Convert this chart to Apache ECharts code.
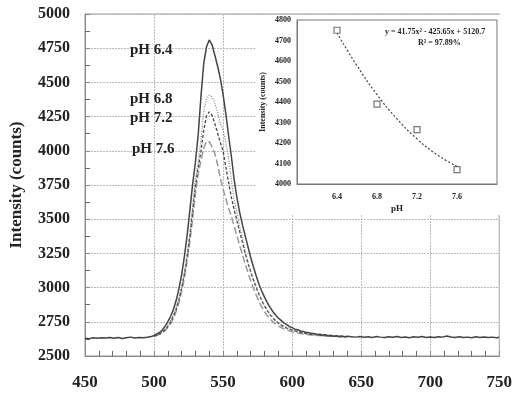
<!DOCTYPE html>
<html>
<head>
<meta charset="utf-8">
<script src="https://cdn.jsdelivr.net/npm/echarts@6/dist/echarts.min.js"></script>
<style>
  html, body { margin: 0; padding: 0; background: #fff; }
  #chart { width: 515px; height: 394px; }
</style>
</head>
<body>
<div id="chart"></div>
<script>
// wavelengths (nm)
const wlLeft = [450, 453, 456, 459, 462, 465, 468, 471, 474, 477, 480, 483, 486, 489, 492, 495, 498]
const wlPeak = [
  500, 502, 504, 506, 508, 510, 512, 514, 516, 518,
  520, 522, 524, 526, 528, 530, 532, 534, 536, 538,
  540, 542, 544, 546, 548, 550, 552, 554, 556, 558,
  560, 562, 564, 566, 568, 570, 572, 574, 576, 578,
  580, 582, 584, 586, 588, 590, 592, 594, 596, 598,
  600, 602, 604, 606, 608, 610, 612, 614, 616, 618,
  620, 622, 624, 626, 628, 630, 632, 634, 636, 638,
  640
]
const wlRight = [
  643, 646, 649, 652, 655, 658, 661, 664, 667, 670,
  673, 676, 679, 682, 685, 688, 691, 694, 697, 700,
  703, 706, 709, 712, 715, 718, 721, 724, 727, 730,
  733, 736, 739, 742, 745, 748, 750
]

// intensity (counts)
const ph64Left = [2630, 2627, 2633, 2629, 2634, 2631, 2636, 2630, 2635, 2628, 2634, 2638, 2632, 2636, 2633, 2637, 2642]
const ph64Peak = [
  2650, 2661, 2672, 2690, 2718, 2752, 2790, 2840, 2905, 2990,
  3095, 3230, 3385, 3570, 3760, 3920, 4120, 4400, 4640, 4760,
  4810, 4775, 4700, 4620, 4530, 4410, 4270, 4110, 3960, 3790,
  3660, 3550, 3460, 3380, 3300, 3220, 3150, 3085, 3025, 2975,
  2930, 2890, 2855, 2825, 2800, 2778, 2760, 2742, 2730, 2716,
  2707, 2696, 2692, 2683, 2680, 2672, 2671, 2664, 2665, 2658,
  2659, 2653, 2655, 2648, 2651, 2645, 2648, 2643, 2646, 2641,
  2644
]
const ph64Right = [
  2641, 2638, 2643, 2637, 2640, 2636, 2642, 2638, 2635, 2641,
  2637, 2643, 2636, 2639, 2634, 2640, 2637, 2642, 2636, 2639,
  2635, 2641, 2638, 2646, 2639, 2636, 2641, 2635, 2638, 2634,
  2640, 2636, 2639, 2635, 2638, 2634, 2637
]
const ph68Peak = [
  2648, 2655, 2664, 2678, 2700, 2725, 2760, 2800, 2855, 2925,
  3010, 3110, 3250, 3400, 3600, 3800, 3920, 4080, 4290, 4380,
  4405, 4395, 4350, 4280, 4200, 4150, 4060, 3950, 3780, 3640,
  3550, 3450, 3360, 3270, 3190, 3120, 3060, 3005, 2955, 2910,
  2870, 2836, 2806, 2782, 2762, 2746, 2732, 2720, 2710, 2701,
  2694, 2686, 2681, 2675, 2671, 2666, 2664, 2660, 2658, 2655,
  2654, 2651, 2650, 2647, 2647, 2644, 2645, 2642, 2643, 2640,
  2641
]
const ph72Peak = [
  2646, 2652, 2661, 2674, 2692, 2716, 2748, 2790, 2842, 2910,
  2995, 3100, 3230, 3380, 3560, 3750, 3880, 4000, 4150, 4255,
  4285, 4260, 4200, 4130, 4060, 4000, 3880, 3770, 3660, 3570,
  3490, 3410, 3330, 3250, 3180, 3115, 3055, 3000, 2950, 2905,
  2866, 2832, 2802, 2778, 2757, 2740, 2726, 2714, 2704, 2696,
  2689, 2683, 2677, 2672, 2668, 2664, 2661, 2658, 2656, 2654,
  2652, 2650, 2648, 2647, 2645, 2644, 2643, 2642, 2641, 2641,
  2640
]
const ph76Peak = [
  2645, 2650, 2658, 2670, 2686, 2708, 2737, 2776, 2825, 2890,
  2970, 3070, 3195, 3340, 3510, 3690, 3830, 3930, 4020, 4070,
  4065, 4030, 3980, 3900, 3800, 3720, 3650, 3580, 3520, 3450,
  3380, 3310, 3240, 3175, 3110, 3050, 2995, 2945, 2900, 2860,
  2825, 2795, 2770, 2750, 2734, 2720, 2708, 2699, 2691, 2684,
  2678, 2673, 2668, 2664, 2661, 2658, 2656, 2654, 2652, 2650,
  2649, 2648, 2646, 2645, 2644, 2643, 2642, 2642, 2641, 2640,
  2640
]

// inset: peak intensity vs pH
const phValues = [6.4, 6.8, 7.2, 7.6]
const peakIntensity = [4750, 4390, 4265, 4070]
const trendPh = [6.4, 6.6, 6.8, 7.0, 7.2, 7.4, 7.6]
const trendIntensity = [4737, 4577, 4436, 4318, 4220, 4143, 4086]

const curveLabels = ["pH 6.4", "pH 6.8", "pH 7.2", "pH 7.6"]

const zip = (xs, ys) => xs.map((x, i) => [x, ys[i]])
const plain = (v) => String(v)

const serif = "Liberation Serif"
const chart = echarts.init(document.getElementById("chart"))

const labelText = (text, x, y, size) => ({
  type: "text",
  left: x,
  top: y,
  z: 30,
  style: { text: text, font: `bold ${size}px "${serif}"`, fill: "#222" },
})

chart.setOption({
  animation: false,
  backgroundColor: "#fff",
  grid: [
    { left: 85, right: 12, top: 14, bottom: 38, show: true, borderColor: "#999", borderWidth: 1 },
    { left: 297, top: 20, width: 200, height: 164, show: true, borderColor: "#777", borderWidth: 1, z: 10 },
  ],
  xAxis: [
    {
      gridIndex: 0,
      type: "value",
      min: 450,
      max: 750,
      interval: 50,
      axisLine: { lineStyle: { color: "#888" } },
      axisTick: { show: true, inside: true, length: 5, lineStyle: { color: "#888" } },
      minorTick: { show: true, splitNumber: 5, length: 5, lineStyle: { color: "#666" } },
      axisLabel: { color: "#222", fontFamily: serif, fontWeight: "bold", fontSize: 17, margin: 18, formatter: plain },
      splitLine: { lineStyle: { color: "#bbb", type: [2, 1] } },
    },
    {
      gridIndex: 1,
      type: "value",
      min: 6.0,
      max: 8.0,
      interval: 0.4,
      z: 10,
      name: "pH",
      nameLocation: "middle",
      nameGap: 20,
      nameTextStyle: { color: "#222", fontFamily: serif, fontWeight: "bold", fontSize: 9 },
      axisLine: { lineStyle: { color: "#777" } },
      axisTick: { show: false },
      axisLabel: {
        color: "#222", fontFamily: serif, fontWeight: "bold", fontSize: 8, margin: 9,
        formatter: (v) => (v < 6.2 || v > 7.8 ? "" : v.toFixed(1)),
      },
      splitLine: { show: false },
    },
  ],
  yAxis: [
    {
      gridIndex: 0,
      type: "value",
      min: 2500,
      max: 5000,
      interval: 250,
      name: "Intensity (counts)",
      nameLocation: "middle",
      nameGap: 60,
      nameTextStyle: { color: "#222", fontFamily: serif, fontWeight: "bold", fontSize: 17 },
      axisLine: { show: true, lineStyle: { color: "#888" } },
      axisTick: { show: true, inside: true, length: 5, lineStyle: { color: "#888" } },
      minorTick: { show: true, splitNumber: 2, length: 5, lineStyle: { color: "#666" } },
      axisLabel: { color: "#222", fontFamily: serif, fontWeight: "bold", fontSize: 16, margin: 15, formatter: plain },
      splitLine: { lineStyle: { color: "#bbb", type: [2, 1] } },
    },
    {
      gridIndex: 1,
      type: "value",
      min: 4000,
      max: 4800,
      interval: 100,
      z: 10,
      name: "Intensity (counts)",
      nameLocation: "middle",
      nameGap: 30,
      nameTextStyle: { color: "#222", fontFamily: serif, fontWeight: "bold", fontSize: 8 },
      axisLine: { show: true, lineStyle: { color: "#777" } },
      axisTick: { show: false },
      axisLabel: { color: "#222", fontFamily: serif, fontWeight: "bold", fontSize: 8, margin: 6, formatter: plain },
      splitLine: { show: false },
    },
  ],
  graphic: [
    {
      type: "rect",
      z: 5,
      shape: { x: 255, y: 15, width: 247, height: 200 },
      style: { fill: "#fff" },
    },
    labelText(curveLabels[0], 130, 43, 15),
    labelText(curveLabels[1], 130, 92, 15),
    labelText(curveLabels[2], 130, 111, 15),
    labelText(curveLabels[3], 132, 142, 15),
    {
      type: "text",
      left: 385,
      top: 28,
      z: 30,
      style: { text: "y = 41.75x² - 425.65x + 5120.7", font: `bold 8px "${serif}"`, fill: "#222" },
    },
    {
      type: "text",
      left: 418,
      top: 39,
      z: 30,
      style: { text: "R² = 97.89%", font: `bold 8px "${serif}"`, fill: "#222" },
    },
  ],
  series: [
    {
      name: "pH 7.6",
      type: "line",
      xAxisIndex: 0,
      yAxisIndex: 0,
      showSymbol: false,
      data: zip(wlPeak, ph76Peak),
      lineStyle: { color: "#999", width: 1.5, type: [7, 3] },
    },
    {
      name: "pH 7.2",
      type: "line",
      xAxisIndex: 0,
      yAxisIndex: 0,
      showSymbol: false,
      data: zip(wlPeak, ph72Peak),
      lineStyle: { color: "#444", width: 1.3, type: [3, 2] },
    },
    {
      name: "pH 6.8",
      type: "line",
      xAxisIndex: 0,
      yAxisIndex: 0,
      showSymbol: false,
      data: zip(wlPeak, ph68Peak),
      lineStyle: { color: "#888", width: 1.3, type: [1, 1.5] },
    },
    {
      name: "pH 6.4",
      type: "line",
      xAxisIndex: 0,
      yAxisIndex: 0,
      showSymbol: false,
      data: zip(wlLeft.concat(wlPeak, wlRight), ph64Left.concat(ph64Peak, ph64Right)),
      lineStyle: { color: "#444", width: 1.5 },
    },
    {
      name: "fit",
      type: "line",
      xAxisIndex: 1,
      yAxisIndex: 1,
      z: 12,
      smooth: true,
      showSymbol: false,
      data: zip(trendPh, trendIntensity),
      lineStyle: { color: "#444", width: 1.2, type: [2, 2] },
    },
    {
      name: "peak",
      type: "scatter",
      xAxisIndex: 1,
      yAxisIndex: 1,
      z: 13,
      symbol: "rect",
      symbolSize: 6,
      data: zip(phValues, peakIntensity),
      itemStyle: { color: "#fff", borderColor: "#555", borderWidth: 1.2 },
    },
  ],
})
</script>
</body>
</html>
